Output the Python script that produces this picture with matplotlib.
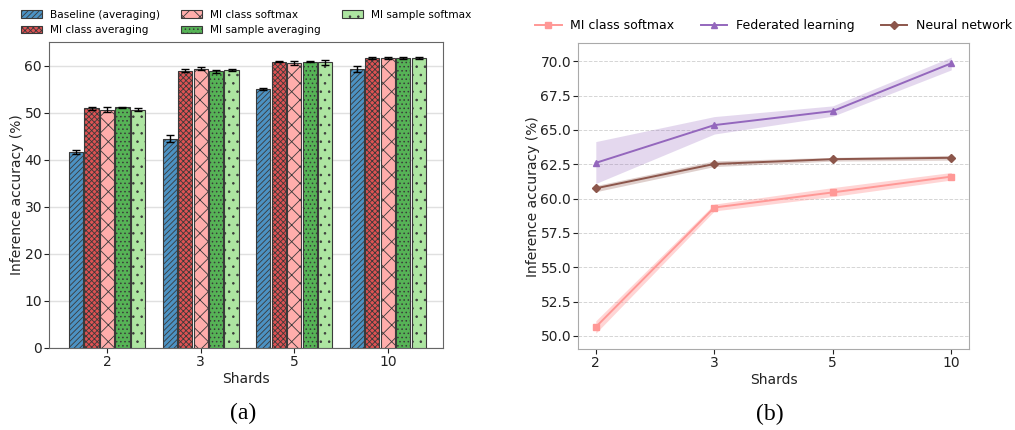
import matplotlib
matplotlib.use("Agg")
import matplotlib.pyplot as plt
import numpy as np
from matplotlib.patches import Patch

# ---------------- data ----------------
shards = ["2", "3", "5", "10"]

bar_series = ["Baseline (averaging)", "MI class averaging", "MI class softmax",
              "MI sample averaging", "MI sample softmax"]
baseline_avg = [41.6, 44.5, 55.0, 59.2]
mi_class_avg = [50.9, 58.9, 60.85, 61.6]
mi_class_soft = [50.65, 59.3, 60.55, 61.65]
mi_sample_avg = [51.1, 58.8, 60.85, 61.6]
mi_sample_soft = [50.65, 59.1, 60.7, 61.6]

baseline_err = [0.4, 0.7, 0.2, 0.6]
mi_class_avg_err = [0.3, 0.3, 0.15, 0.15]
mi_class_soft_err = [0.5, 0.35, 0.4, 0.2]
mi_sample_avg_err = [0.2, 0.3, 0.15, 0.25]
mi_sample_soft_err = [0.4, 0.25, 0.5, 0.15]

line_series = ["MI class softmax", "Federated learning", "Neural network"]
mi_soft_line = [50.65, 59.35, 60.45, 61.6]
mi_soft_lo = [50.2, 59.1, 60.15, 61.35]
mi_soft_hi = [51.1, 59.6, 60.8, 61.9]
fl_line = [62.6, 65.35, 66.37, 69.85]
fl_lo = [61.1, 64.7, 66.0, 69.37]
fl_hi = [64.15, 65.97, 66.75, 70.3]
nn_line = [60.75, 62.52, 62.87, 62.97]
nn_lo = [60.5, 62.33, 62.73, 62.8]
nn_hi = [60.95, 62.75, 63.0, 63.15]

# ---------------- figure ----------------
plt.rcParams['hatch.linewidth'] = 0.6
fig = plt.figure(figsize=(10.15, 4.3), dpi=100)

ax1 = fig.add_axes([0.0483, 0.1907, 0.3882, 0.7116])
ax2 = fig.add_axes([0.5695, 0.1884, 0.3852, 0.7107])

bar_vals = [baseline_avg, mi_class_avg, mi_class_soft, mi_sample_avg, mi_sample_soft]
bar_errs = [baseline_err, mi_class_avg_err, mi_class_soft_err, mi_sample_avg_err, mi_sample_soft_err]
bar_colors = ["#4C92C3", "#DE5253", "#FFADAB", "#56B356", "#ADE5A1"]
bar_hatches = ["//////", "xxxxxx", "xx", "....", ".."]

x = np.arange(len(shards))
step = 0.165
width = 0.152
for i, (vals, errs, c, h) in enumerate(zip(bar_vals, bar_errs, bar_colors, bar_hatches)):
    pos = x + (i - 2) * step
    ax1.bar(pos, vals, width=width, color=c, edgecolor="#3a3a3a", linewidth=0.8,
            hatch=h, zorder=3, label=bar_series[i])
    ax1.errorbar(pos, vals, yerr=errs, fmt="none", ecolor="black", elinewidth=1,
                 capsize=3, capthick=1, zorder=4)

ax1.set_xlim(-0.62, 3.59)
ax1.set_ylim(0, 65)
ax1.set_xticks(x)
ax1.set_xticklabels(shards)
ax1.set_yticks([0, 10, 20, 30, 40, 50, 60])
ax1.yaxis.grid(True, color="#e0e0e0", linewidth=1, zorder=0)
ax1.set_axisbelow(True)
ax1.set_xlabel("Shards", fontsize=10, color="#222222", labelpad=2)
ax1.set_ylabel("Inference accuracy (%)", fontsize=10, color="#222222", labelpad=0)
ax1.tick_params(labelsize=10, colors="#222222", pad=1.5)
for s in ax1.spines.values():
    s.set_color("#666666")

handles = [Patch(facecolor=c, edgecolor="#3a3a3a", hatch=h, linewidth=0.8, label=l)
           for c, h, l in zip(bar_colors, bar_hatches, bar_series)]
ax1.legend(handles=handles, loc="lower center", bbox_to_anchor=(0.5, 1.0), ncol=3,
           frameon=False, fontsize=7.6, handlelength=2.0, handleheight=0.7,
           handletextpad=0.75, columnspacing=2.0, labelspacing=0.5, borderaxespad=0.25)

# ---------------- right chart ----------------
line_vals = [mi_soft_line, fl_line, nn_line]
line_lo = [mi_soft_lo, fl_lo, nn_lo]
line_hi = [mi_soft_hi, fl_hi, nn_hi]
line_colors = ["#ff9896", "#9467bd", "#8c564b"]
line_markers = ["s", "^", "D"]
band_alpha = [0.4, 0.25, 0.28]
for vals, lo, hi, c, m, l, a in zip(line_vals, line_lo, line_hi, line_colors, line_markers,
                                    line_series, band_alpha):
    ax2.fill_between(x, lo, hi, color=c, alpha=a, linewidth=0)
    ax2.plot(x, vals, color=c, marker=m, markersize=4, linewidth=1.4, label=l)

ax2.set_xlim(-0.15, 3.15)
ax2.set_ylim(49.05, 71.3)
ax2.set_xticks(x)
ax2.set_xticklabels(shards)
yt = np.arange(50, 70.1, 2.5)
ax2.set_yticks(yt)
ax2.set_yticklabels([f"{v:.1f}" for v in yt])
ax2.yaxis.grid(True, color="#d5d5d5", linestyle="--", linewidth=0.7)
ax2.set_axisbelow(True)
ax2.set_xlabel("Shards", fontsize=10, color="#222222", labelpad=2)
ax2.set_ylabel("Inference accuracy (%)", fontsize=10, color="#222222", labelpad=0)
ax2.tick_params(labelsize=10, colors="#222222", pad=1.5)
for s in ax2.spines.values():
    s.set_color("#aaaaaa")
ax2.legend(loc="lower center", bbox_to_anchor=(0.5, 1.0), ncol=3, frameon=False,
           fontsize=9, handlelength=2.1, handletextpad=0.7, columnspacing=2.1,
           borderaxespad=0.5)

fig.text(0.2394, 0.038, "(a)", fontsize=17, family="Liberation Serif", ha="center", va="center")
fig.text(0.7586, 0.036, "(b)", fontsize=17, family="Liberation Serif", ha="center", va="center")

fig.savefig("out.png", dpi=100)
